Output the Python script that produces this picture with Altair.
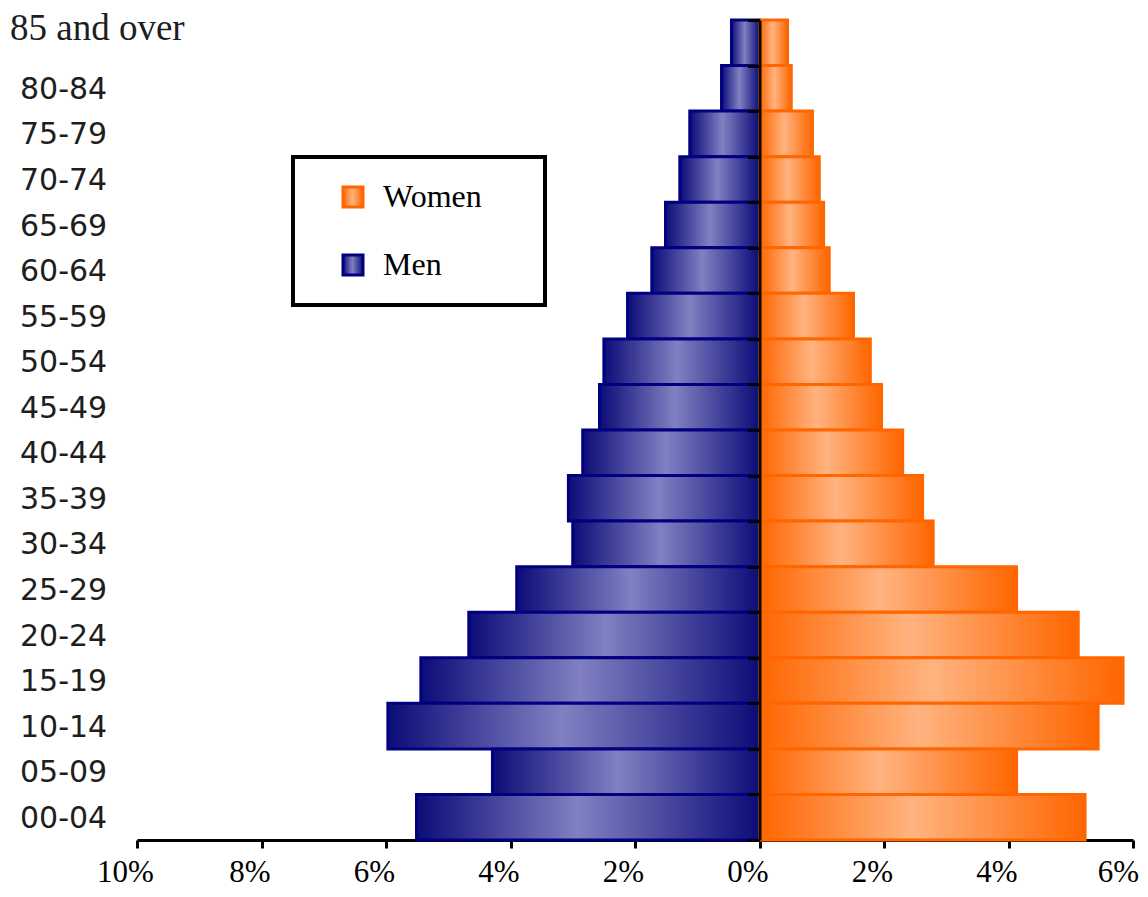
import altair as alt
import pandas as pd

ages = ["85 and over", "80-84", "75-79", "70-74", "65-69", "60-64", "55-59", "50-54",
        "45-49", "40-44", "35-39", "30-34", "25-29", "20-24", "15-19", "10-14",
        "05-09", "00-04"]
men = [0.45, 0.61, 1.12, 1.28, 1.51, 1.73, 2.12, 2.50, 2.57, 2.84, 3.07, 3.00,
       3.90, 4.67, 5.44, 5.97, 4.29, 5.51]
women = [0.45, 0.51, 0.85, 0.96, 1.03, 1.12, 1.51, 1.78, 1.96, 2.30, 2.62, 2.79,
         4.13, 5.12, 5.84, 5.44, 4.13, 5.23]
sexes = ["Women", "Men"]
x_ticks = [-10, -8, -6, -4, -2, 0, 2, 4, 6]

rows = []
for a, m, w in zip(ages, men, women):
    rows.append({"age": a, "sex": "Men", "value": -m})
    rows.append({"age": a, "sex": "Women", "value": w})
df = pd.DataFrame(rows)

grad_w = ("{gradient: 'linear', x1: 0, y1: 0, x2: 1, y2: 0, stops: ["
          "{offset: 0, color: '#ff6600'}, {offset: 0.47, color: '#ffb380'}, "
          "{offset: 1, color: '#ff6600'}]}")
grad_m = ("{gradient: 'linear', x1: 0, y1: 0, x2: 1, y2: 0, stops: ["
          "{offset: 0, color: '#0c0c78'}, {offset: 0.47, color: '#8080c2'}, "
          "{offset: 1, color: '#0c0c78'}]}")

W, H = 996, 820
zero_off = -W * 10 / 16

is85 = "datum.value == '85 and over'"

chart = alt.Chart(df).mark_bar(strokeWidth=3).encode(
    y=alt.Y("age:N", sort=ages,
            scale=alt.Scale(paddingInner=0, paddingOuter=0),
            axis=alt.Axis(
                title=None, orient="left", offset=zero_off, zindex=1,
                domain=True, domainColor="black", domainWidth=3,
                ticks=True, tickBand="extent", tickColor="black", tickWidth=3, tickSize=12,
                labelAlign="left", labelBound=False, labelOverlap=False, labelLimit=400,
                labelColor="#1e1e1e",
                labelFont={"condition": {"test": is85, "value": "Liberation Serif"}, "value": "DejaVu Sans"},
                labelFontSize={"condition": {"test": is85, "value": 37}, "value": 30},
                labelPadding={"condition": {"test": is85, "value": 738}, "value": 728},
                labelOffset={"condition": {"test": is85, "value": -14}, "value": 1},
                grid=False)),
    x=alt.X("value:Q",
            scale=alt.Scale(domain=[-10, 6], nice=False, zero=False),
            axis=alt.Axis(values=x_ticks, labelExpr="abs(datum.value) + '%'",
                          title=None, grid=False,
                          domainColor="black", domainWidth=3,
                          tickColor="black", tickWidth=3, tickSize=8,
                          labelFont="Liberation Serif", labelFontSize=31, labelColor="black",
                          labelPadding=9,
                          labelOffset={"condition": {"test": "datum.value == 6", "value": -15}, "value": -12},
                          labelFlush=False, labelBound=False)),
    fill=alt.Fill("sex:N",
                  scale=alt.Scale(domain=sexes, range=[alt.ExprRef(expr=grad_w), alt.ExprRef(expr=grad_m)]),
                  legend=alt.Legend(title=".", titleOrient="right", titlePadding=36,
                                    titleFontSize=8, titleOpacity=0,
                                    orient="none", legendX=156, legendY=137,
                                    symbolType="square", symbolSize=400, symbolStrokeWidth=3,
                                    symbolOffset=20, labelOffset=14,
                                    labelFont="Liberation Serif", labelFontSize=32, labelColor="black",
                                    labelLimit=400, rowPadding=36, padding=24,
                                    strokeColor="black")),
    stroke=alt.Stroke("sex:N",
                      scale=alt.Scale(domain=sexes, range=["#ff6600", "#000080"]),
                      legend=None),
).properties(
    width=W, height=H,
    padding={"left": 129, "top": 12, "right": 7, "bottom": 49},
    autosize=alt.AutoSizeParams(type="none"),
).configure_view(
    strokeWidth=0
).configure_legend(
    strokeWidth=4
)

chart.save("out.html", embed_options={"renderer": "svg", "actions": False})
